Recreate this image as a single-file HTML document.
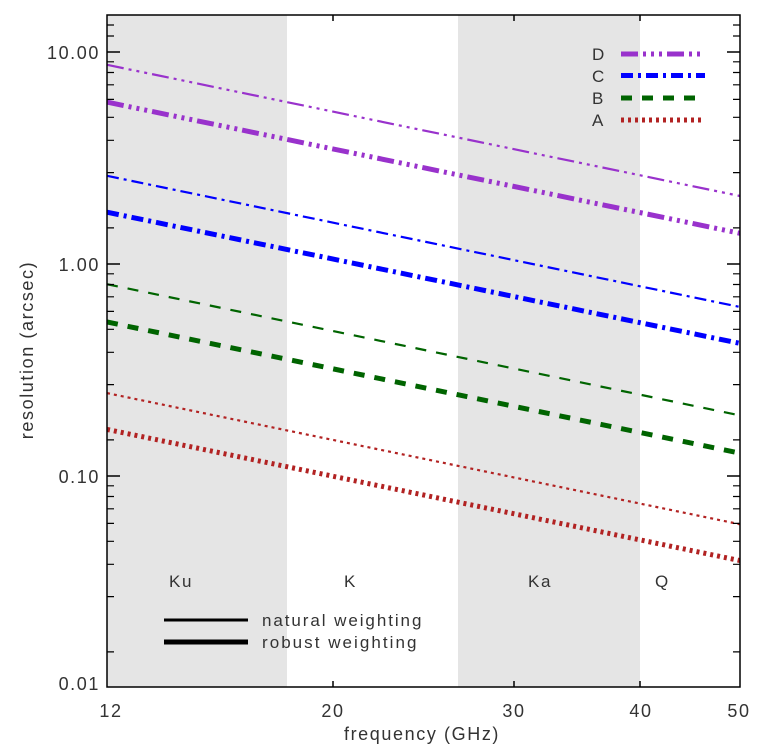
<!DOCTYPE html>
<html><head><meta charset="utf-8"><style>
html,body{margin:0;padding:0;background:#fff;}
svg{display:block;}
text{font-family:"Liberation Sans","DejaVu Sans",sans-serif;fill:#333;letter-spacing:1.6px;}
</style></head><body>
<svg width="757" height="749" viewBox="0 0 757 749" xmlns="http://www.w3.org/2000/svg">
<defs><clipPath id="c"><rect x="107" y="15" width="633" height="672"/></clipPath></defs>
<rect x="107" y="15" width="180" height="672" fill="#e5e5e5"/>
<rect x="458" y="15" width="182" height="672" fill="#e5e5e5"/>
<g fill="none" stroke-linecap="butt" clip-path="url(#c)">
<line x1="107" y1="64.8" x2="740" y2="196" stroke="#9932cc" stroke-width="2.2" stroke-dasharray="17 5 3 5 3 5 3 5"/>
<line x1="107" y1="102.1" x2="740" y2="233.3" stroke="#9932cc" stroke-width="5" stroke-dasharray="17 5 3 5 3 5 3 5"/>
<line x1="107" y1="175.8" x2="740" y2="307" stroke="#0000ff" stroke-width="2.2" stroke-dasharray="12 5 3 5"/>
<line x1="107" y1="212.2" x2="740" y2="343.4" stroke="#0000ff" stroke-width="5" stroke-dasharray="12 5 3 5"/>
<line x1="107" y1="284.2" x2="740" y2="415.4" stroke="#006400" stroke-width="2.2" stroke-dasharray="11 10"/>
<line x1="107" y1="322" x2="740" y2="453.2" stroke="#006400" stroke-width="5" stroke-dasharray="11 10"/>
<line x1="107" y1="393.1" x2="740" y2="524.3" stroke="#b22222" stroke-width="2.2" stroke-dasharray="3 4"/>
<line x1="107" y1="429.4" x2="740" y2="560.6" stroke="#b22222" stroke-width="5" stroke-dasharray="3 4"/>
</g>
<g fill="none">
<line x1="621" y1="54" x2="705" y2="54" stroke="#9932cc" stroke-width="5" stroke-dasharray="17 5 3 5 3 5 3 5"/>
<line x1="621" y1="75.5" x2="705" y2="75.5" stroke="#0000ff" stroke-width="5" stroke-dasharray="12 5 3 5"/>
<line x1="621" y1="98" x2="705" y2="98" stroke="#006400" stroke-width="5" stroke-dasharray="11 10"/>
<line x1="621" y1="120" x2="705" y2="120" stroke="#b22222" stroke-width="5" stroke-dasharray="3 4"/>
<line x1="164" y1="620" x2="248" y2="620" stroke="#000" stroke-width="3"/>
<line x1="164" y1="642" x2="248" y2="642" stroke="#000" stroke-width="5"/>
</g>
<g font-size="17">
<text x="592" y="60">D</text><text x="592" y="82">C</text><text x="592" y="104">B</text><text x="592" y="126">A</text>
<text x="262" y="626" textLength="161">natural weighting</text>
<text x="262" y="648" textLength="156">robust weighting</text>
<text x="169" y="587">Ku</text><text x="344" y="587">K</text><text x="528" y="587">Ka</text><text x="655" y="587">Q</text>
</g>
<rect x="107" y="15" width="633" height="672" fill="none" stroke="#000" stroke-width="1.5"/>
<g stroke="#000" stroke-width="1.5">
<line x1="107" y1="52" x2="120" y2="52"/><line x1="107" y1="264" x2="120" y2="264"/><line x1="107" y1="476" x2="120" y2="476"/>
<line x1="740" y1="52" x2="727" y2="52"/><line x1="740" y1="264" x2="727" y2="264"/><line x1="740" y1="476" x2="727" y2="476"/>
<line x1="333" y1="687" x2="333" y2="681"/><line x1="514" y1="687" x2="514" y2="681"/><line x1="640" y1="687" x2="640" y2="681"/>
<line x1="333" y1="15" x2="333" y2="21"/><line x1="514" y1="15" x2="514" y2="21"/><line x1="640" y1="15" x2="640" y2="21"/>
</g>
<g stroke="#000" stroke-width="1.2">
<path d="M107 61.8h7M107 72.5h7M107 84.8h7M107 99.4h7M107 117.3h7M107 140.3h7M107 172.6h7M107 227.9h7
M107 273.8h7M107 284.5h7M107 296.8h7M107 311.4h7M107 329.3h7M107 352.3h7M107 384.6h7M107 439.9h7
M107 485.8h7M107 496.5h7M107 508.8h7M107 523.4h7M107 541.3h7M107 564.3h7M107 596.6h7M107 651.9h7
M107 25h7M107 36h7
M740 61.8h-7M740 72.5h-7M740 84.8h-7M740 99.4h-7M740 117.3h-7M740 140.3h-7M740 172.6h-7M740 227.9h-7
M740 273.8h-7M740 284.5h-7M740 296.8h-7M740 311.4h-7M740 329.3h-7M740 352.3h-7M740 384.6h-7M740 439.9h-7
M740 485.8h-7M740 496.5h-7M740 508.8h-7M740 523.4h-7M740 541.3h-7M740 564.3h-7M740 596.6h-7M740 651.9h-7
M740 25h-7M740 36h-7"/>
</g>
<g font-size="18" text-anchor="end">
<text x="100" y="59">10.00</text><text x="100" y="271">1.00</text><text x="100" y="483">0.10</text><text x="100" y="690">0.01</text>
</g>
<g font-size="18" text-anchor="middle">
<text x="111" y="717">12</text><text x="333" y="717">20</text><text x="514" y="717">30</text><text x="641" y="717">40</text><text x="739" y="717">50</text>
<text x="422" y="740">frequency (GHz)</text>
<text transform="translate(33,350) rotate(-90)">resolution (arcsec)</text>
</g>
</svg>
</body></html>
